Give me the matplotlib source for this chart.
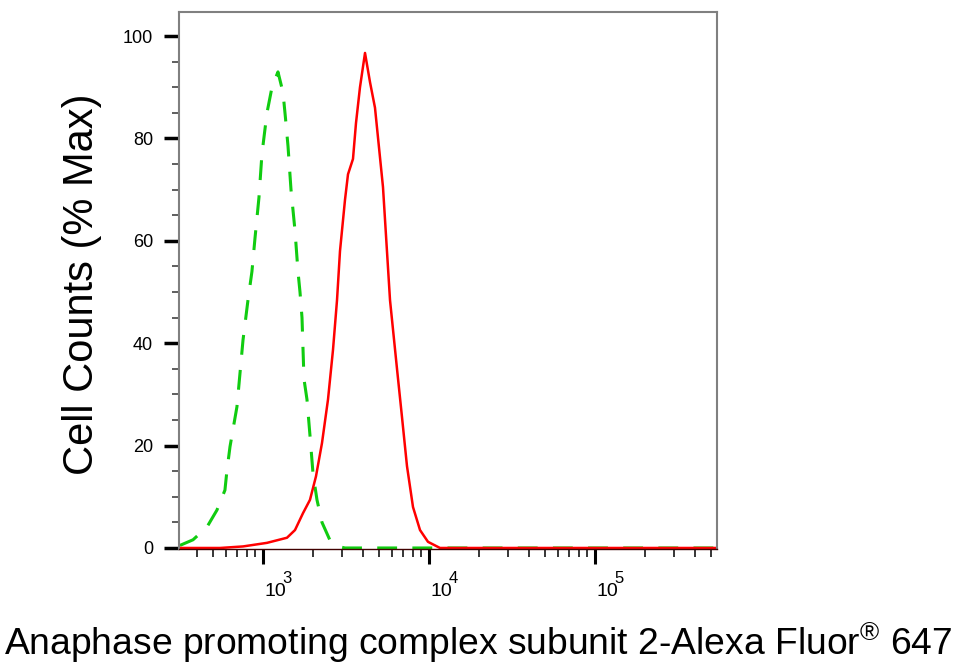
import matplotlib
matplotlib.use("Agg")
import matplotlib.pyplot as plt
from matplotlib.ticker import LogLocator, NullFormatter, FixedLocator, MultipleLocator
import numpy as np

plt.rcParams['font.family'] = ['Liberation Sans', 'DejaVu Sans']
plt.rcParams['mathtext.fontset'] = 'custom'
plt.rcParams['mathtext.rm'] = 'Liberation Sans'
plt.rcParams['mathtext.it'] = 'Liberation Sans'

# isotype control (green dashed)
ctrl_x = [316, 379, 460, 528, 590, 607, 633, 697, 758, 812, 858, 895, 946, 986,
          1057, 1133, 1231, 1320, 1366, 1415, 1475, 1559, 1625, 1671, 1718, 1766,
          1841, 1919, 2001, 2057, 2115, 2267, 2533, 2830, 3119, 543000]
ctrl_y = [0.5, 1.6, 4.1, 7.4, 11.3, 15.2, 19.8, 27.6, 40.6, 48.4, 54, 60.5, 68.5, 77,
          85, 90, 93, 89, 84, 78.5, 70, 62, 54, 50, 45, 33,
          29, 22, 14.6, 12, 9.4, 5, 1.5, 0.3, 0, 0]

# stained sample (red solid)
samp_x = [316, 551, 758, 1057, 1395, 1559, 1742, 1919, 2086, 2267, 2464, 2641,
          2792, 2910, 3119, 3252, 3485, 3633, 3840, 4117, 4412, 4728, 5283, 5824,
          6416, 6875, 7369, 8010, 8829, 9862, 11650, 543000]
samp_y = [0, 0, 0.3, 1.0, 2.0, 3.5, 6.8, 9.4, 14, 20.5, 29, 38.7,
          48.4, 58, 68, 73, 76, 83, 90, 96.7, 91, 86, 70.5, 48.4,
          35, 25.6, 16, 8, 3.5, 1.2, 0, 0]

x_major = [1e3, 1e4, 1e5]
x_exponents = ['3', '4', '5']
y_major = [0, 20, 40, 60, 80, 100]

fig = plt.figure(figsize=(9.56, 6.69), dpi=100)
ax = fig.add_axes([179/956, 1-549/669, (717-179)/956, (549-12)/669])

ax.plot(ctrl_x, ctrl_y, color='#10cc10', lw=2.2, dashes=(6.5, 5))
ax.plot(samp_x, samp_y, color='#ff0000', lw=1.8)

ax.set_xscale('log')
ax.set_xlim(312, 543000)
ax.set_ylim(-0.2, 104.7)

ax.xaxis.set_major_locator(FixedLocator(x_major))
ax.xaxis.set_major_formatter(NullFormatter())
ax.xaxis.set_minor_locator(LogLocator(base=10, subs=np.arange(2, 10)))
ax.xaxis.set_minor_formatter(NullFormatter())
ax.yaxis.set_major_locator(FixedLocator(y_major))
ax.yaxis.set_minor_locator(MultipleLocator(5))

ax.tick_params(axis='x', which='major', length=10.8, width=2.2, color='black')
ax.tick_params(axis='x', which='minor', length=5.8, width=1.1, color='black')
ax.tick_params(axis='y', which='major', length=10.8, width=2.5, color='black',
               labelsize=13, pad=8)
ax.tick_params(axis='y', which='minor', length=5, width=1.1, color='#333333')

# decade labels: "10" with a raised exponent
for t, e in zip(x_major, x_exponents):
    ax.annotate('10', xy=(t, 0), xycoords=('data', 'axes fraction'),
                xytext=(1.4, -33.8), textcoords='offset points',
                ha='left', va='baseline', fontsize=14)
    ax.annotate(e, xy=(t, 0), xycoords=('data', 'axes fraction'),
                xytext=(14.2, -24.3), textcoords='offset points',
                ha='left', va='baseline', fontsize=12)

for side in ['top', 'right', 'left']:
    ax.spines[side].set_color('#808080')
    ax.spines[side].set_linewidth(1.5)
ax.spines['bottom'].set_color('#400000')
ax.spines['bottom'].set_linewidth(1.0)

fig.text(82/956, 1-284/669, 'Cell Counts (% Max)', rotation=90,
         ha='center', va='center', fontsize=30)
fig.text(0.5, 1-655/669, r'Anaphase promoting complex subunit 2-Alexa Fluor$^{\circledR}$ 647',
         ha='center', va='baseline', fontsize=26.8)

fig.savefig('out.png', dpi=100)
